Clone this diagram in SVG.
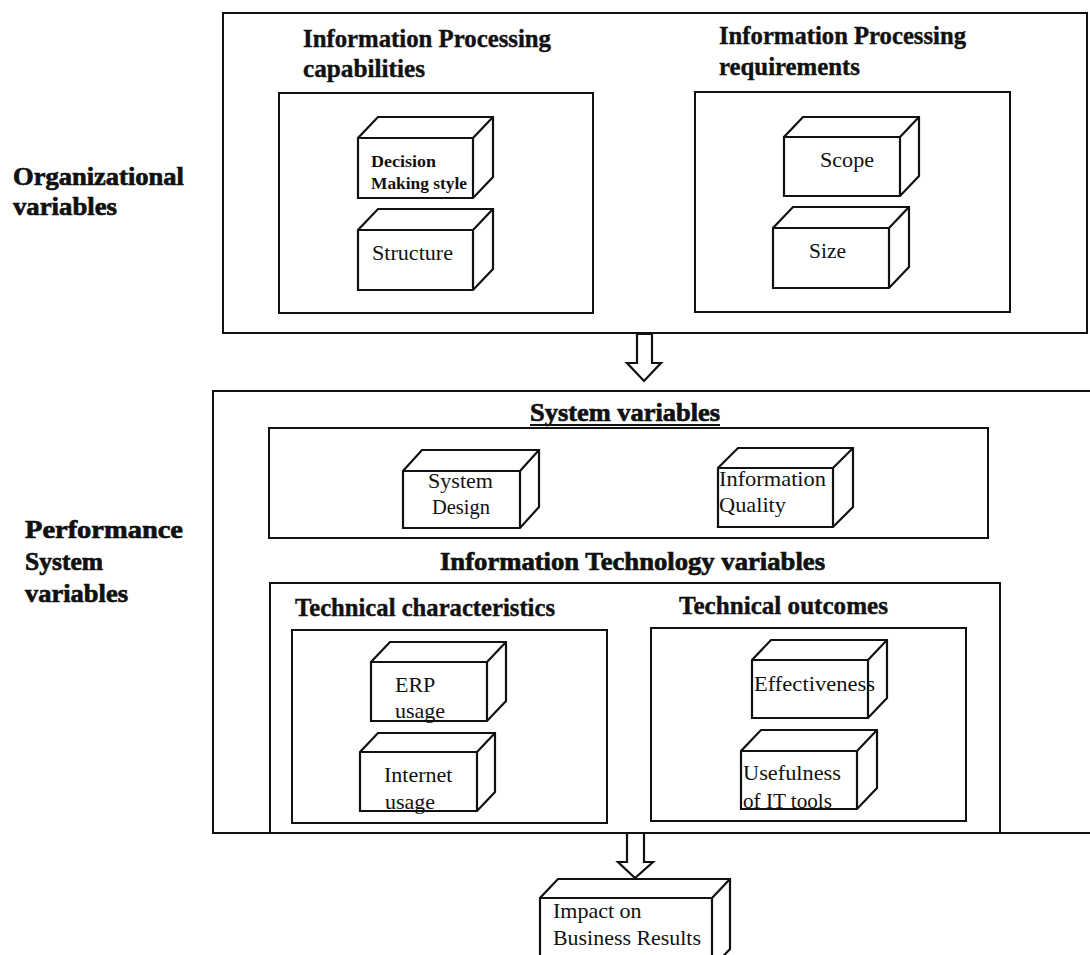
<svg xmlns="http://www.w3.org/2000/svg" width="1090" height="955" viewBox="0 0 1090 955">
  <style>
    .frame { fill: none; stroke: #111; stroke-width: 2; }
    .cube { fill: #fff; stroke: #111; stroke-width: 2.2; stroke-linejoin: miter; }
    .edge { fill: none; stroke: #111; stroke-width: 2.2; }
    .arrow { fill: #fff; stroke: #111; stroke-width: 2.2; stroke-linejoin: miter; }
    .heavy { font-family: "Liberation Serif", "Times New Roman", serif; font-weight: bold; font-size: 26px; fill: #111; stroke: #111; stroke-width: 0.7; }
    .head { font-family: "Liberation Serif", "Times New Roman", serif; font-weight: bold; font-size: 24.5px; fill: #111; stroke: #111; stroke-width: 0.4; }
    .label { font-family: "Liberation Serif", "Times New Roman", serif; font-size: 22px; fill: #111; }
    .small { font-family: "Liberation Serif", "Times New Roman", serif; font-weight: bold; font-size: 17.5px; fill: #111; }
  </style>

  <rect width="1090" height="955" fill="#fff"/>

  <!-- Side captions -->
  <g id="organizational-caption">
    <text class="heavy" x="13" y="185" textLength="171" lengthAdjust="spacingAndGlyphs">Organizational</text>
    <text class="heavy" x="13" y="215" textLength="104" lengthAdjust="spacingAndGlyphs">variables</text>
  </g>
  <g id="performance-caption">
    <text class="heavy" x="25" y="538" textLength="158" lengthAdjust="spacingAndGlyphs">Performance</text>
    <text class="heavy" x="25" y="570" textLength="78" lengthAdjust="spacingAndGlyphs">System</text>
    <text class="heavy" x="25" y="602" textLength="103" lengthAdjust="spacingAndGlyphs">variables</text>
  </g>

  <!-- Organizational variables panel -->
  <g id="organizational-panel">
    <rect class="frame" x="223" y="13" width="864" height="320"/>
  </g>

  <g id="ip-capabilities">
    <text class="head" x="303" y="47" textLength="248" lengthAdjust="spacingAndGlyphs">Information Processing</text>
    <text class="head" x="303" y="77" textLength="122" lengthAdjust="spacingAndGlyphs">capabilities</text>
    <rect class="frame" x="279" y="93" width="314" height="220"/>
  </g>

  <g id="decision-making-style" transform="translate(358,138)">
    <path class="cube" d="M0,60 V0 L20,-21 H135 V39 L115,60 Z"/>
    <path class="edge" d="M0,0 H115 V60 M115,0 L135,-21"/>
    <text class="small" x="13" y="29" textLength="65" lengthAdjust="spacingAndGlyphs">Decision</text>
    <text class="small" x="13" y="51" textLength="96" lengthAdjust="spacingAndGlyphs">Making style</text>
  </g>

  <g id="structure" transform="translate(358,230)">
    <path class="cube" d="M0,60 V0 L20,-21 H135 V39 L115,60 Z"/>
    <path class="edge" d="M0,0 H115 V60 M115,0 L135,-21"/>
    <text class="label" x="14" y="30" textLength="81" lengthAdjust="spacingAndGlyphs">Structure</text>
  </g>

  <g id="ip-requirements">
    <text class="head" x="719" y="44" textLength="247" lengthAdjust="spacingAndGlyphs">Information Processing</text>
    <text class="head" x="719" y="75" textLength="141" lengthAdjust="spacingAndGlyphs">requirements</text>
    <rect class="frame" x="695" y="92" width="315" height="220"/>
  </g>

  <g id="scope" transform="translate(784,137)">
    <path class="cube" d="M0,59 V0 L19,-20 H135 V39 L116,59 Z"/>
    <path class="edge" d="M0,0 H116 V59 M116,0 L135,-20"/>
    <text class="label" x="36" y="30" textLength="54" lengthAdjust="spacingAndGlyphs">Scope</text>
  </g>

  <g id="size" transform="translate(773,228)">
    <path class="cube" d="M0,60 V0 L20,-21 H136 V39 L116,60 Z"/>
    <path class="edge" d="M0,0 H116 V60 M116,0 L136,-21"/>
    <text class="label" x="36" y="30" textLength="37" lengthAdjust="spacingAndGlyphs">Size</text>
  </g>

  <!-- Performance system panel -->
  <g id="performance-panel">
    <path class="frame" d="M1092,391 H213 V833 H1092"/>
  </g>

  <g id="system-variables">
    <text class="heavy" x="530" y="421" textLength="190" lengthAdjust="spacingAndGlyphs">System variables</text>
    <line class="edge" x1="530" y1="425" x2="720" y2="425"/>
    <rect class="frame" x="269" y="428" width="719" height="110"/>
  </g>

  <g id="system-design" transform="translate(403,471)">
    <path class="cube" d="M0,57 V0 L19,-21 H136 V36 L117,57 Z"/>
    <path class="edge" d="M0,0 H117 V57 M117,0 L136,-21"/>
    <text class="label" x="25" y="17" textLength="65" lengthAdjust="spacingAndGlyphs">System</text>
    <text class="label" x="29" y="43" textLength="58" lengthAdjust="spacingAndGlyphs">Design</text>
  </g>

  <g id="information-quality" transform="translate(718,468)">
    <path class="cube" d="M0,59 V0 L20,-20 H135 V39 L115,59 Z"/>
    <path class="edge" d="M0,0 H115 V59 M115,0 L135,-20"/>
    <text class="label" x="1" y="18" textLength="107" lengthAdjust="spacingAndGlyphs">Information</text>
    <text class="label" x="1" y="44" textLength="67" lengthAdjust="spacingAndGlyphs">Quality</text>
  </g>

  <g id="it-variables">
    <text class="heavy" x="440" y="570" textLength="385" lengthAdjust="spacingAndGlyphs">Information Technology variables</text>
    <path class="frame" d="M270,833 V583 H1000 V833"/>
  </g>

  <g id="technical-characteristics">
    <text class="head" x="295" y="616" textLength="260" lengthAdjust="spacingAndGlyphs">Technical characteristics</text>
    <rect class="frame" x="292" y="630" width="315" height="193"/>
  </g>

  <g id="erp-usage" transform="translate(371,662)">
    <path class="cube" d="M0,59 V0 L19,-20 H135 V39 L116,59 Z"/>
    <path class="edge" d="M0,0 H116 V59 M116,0 L135,-20"/>
    <text class="label" x="24" y="30">ERP</text>
    <text class="label" x="24" y="56">usage</text>
  </g>

  <g id="internet-usage" transform="translate(360,752)">
    <path class="cube" d="M0,59 V0 L18,-19 H135 V40 L117,59 Z"/>
    <path class="edge" d="M0,0 H117 V59 M117,0 L135,-19"/>
    <text class="label" x="24" y="30">Internet</text>
    <text class="label" x="25" y="57">usage</text>
  </g>

  <g id="technical-outcomes">
    <text class="head" x="679" y="614" textLength="209" lengthAdjust="spacingAndGlyphs">Technical outcomes</text>
    <rect class="frame" x="651" y="628" width="315" height="193"/>
  </g>

  <g id="effectiveness" transform="translate(752,660)">
    <path class="cube" d="M0,58 V0 L19,-20 H135 V38 L116,58 Z"/>
    <path class="edge" d="M0,0 H116 V58 M116,0 L135,-20"/>
    <text class="label" x="2" y="31" textLength="121" lengthAdjust="spacingAndGlyphs">Effectiveness</text>
  </g>

  <g id="usefulness-it-tools" transform="translate(741,751)">
    <path class="cube" d="M0,58 V0 L20,-21 H136 V37 L116,58 Z"/>
    <path class="edge" d="M0,0 H116 V58 M116,0 L136,-21"/>
    <text class="label" x="2" y="29" textLength="98" lengthAdjust="spacingAndGlyphs">Usefulness</text>
    <text class="label" x="2" y="57" textLength="89" lengthAdjust="spacingAndGlyphs">of  IT tools</text>
  </g>

  <!-- Result node -->
  <g id="impact-on-business-results" transform="translate(540,898)">
    <path class="cube" d="M0,70 V0 L18,-19 H190 V51 L172,70 Z"/>
    <path class="edge" d="M0,0 H172 V70 M172,0 L190,-19"/>
    <text class="label" x="13" y="20">Impact on</text>
    <text class="label" x="13" y="47" textLength="148" lengthAdjust="spacingAndGlyphs">Business Results</text>
  </g>

  <!-- Block arrows between stages -->
  <g id="connectors">
    <polygon class="arrow" points="637,334 637,363 627,363 644,381 661,363 652,363 652,334"/>
    <polygon class="arrow" points="627,833 627,862 618,862 635,878 653,862 644,862 644,833"/>
  </g>
</svg>
